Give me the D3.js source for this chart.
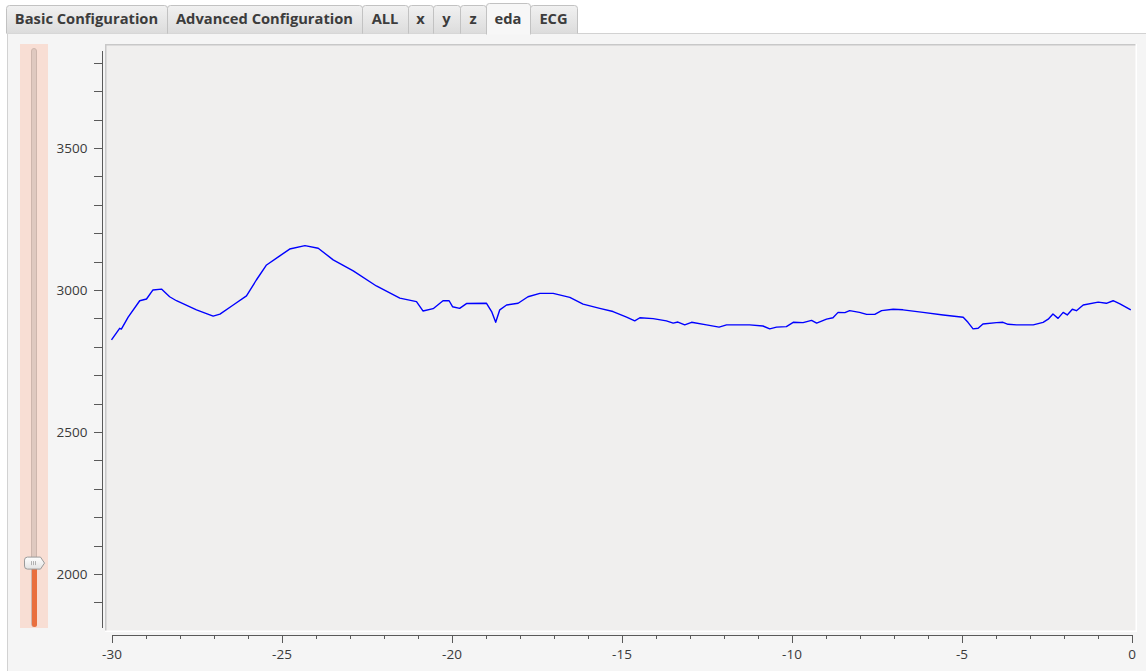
<!DOCTYPE html>
<html>
<head>
<meta charset="utf-8">
<script src="https://cdn.jsdelivr.net/npm/d3@7"></script>
<style>
  body { margin: 0; background: #fff; }
  svg { display: block; }
  .axis text { font-family: "Open Sans", sans-serif; font-size: 13.5px; fill: #3a3a3a; }
  .axis path, .axis line { stroke: #5a5a5a; shape-rendering: crispEdges; }
  .tab text { font-family: "Open Sans", sans-serif; font-weight: 700; font-size: 14.7px; fill: #3c3c3c; }
</style>
</head>
<body>
<svg width="1146" height="671"></svg>
<script>
// tabs
var tabNames = ["Basic Configuration", "Advanced Configuration", "ALL", "x", "y", "z", "eda", "ECG"];
var tabWidths = [161, 195, 46, 25, 27, 26, 44, 47];
var activeTab = "eda";

// eda signal, seconds before now -> value
var times = [-30.00, -29.76, -29.71, -29.51, -29.17, -28.97, -28.78, -28.53, -28.29, -28.09,
  -27.50, -27.01, -26.81, -26.42, -26.03, -25.74, -25.44, -25.05, -24.76, -24.31,
  -23.92, -23.48, -22.89, -22.21, -21.52, -21.03, -20.84, -20.54, -20.25, -20.07,
  -19.97, -19.76, -19.56, -18.97, -18.82, -18.70, -18.58, -18.38, -18.04, -17.75,
  -17.40, -17.01, -16.52, -16.13, -15.64, -15.25, -14.85, -14.61, -14.46, -14.07,
  -13.68, -13.48, -13.34, -13.14, -12.94, -12.50, -12.13, -11.91, -11.23, -10.84,
  -10.64, -10.44, -10.15, -9.95, -9.66, -9.41, -9.26, -8.97, -8.78, -8.63,
  -8.43, -8.29, -8.00, -7.79, -7.55, -7.35, -7.01, -6.72, -6.13, -5.54,
  -4.95, -4.81, -4.66, -4.51, -4.37, -3.97, -3.78, -3.63, -3.38, -2.89,
  -2.60, -2.45, -2.31, -2.16, -2.01, -1.89, -1.74, -1.62, -1.42, -0.98,
  -0.74, -0.54, -0.34, -0.02];
var values = [2824, 2865, 2862, 2904, 2962, 2968, 3000, 3003, 2976, 2962,
  2930, 2908, 2915, 2947, 2979, 3035, 3088, 3120, 3144, 3156,
  3147, 3106, 3067, 3014, 2971, 2959, 2926, 2934, 2962, 2962,
  2941, 2935, 2952, 2953, 2924, 2886, 2930, 2947, 2953, 2976,
  2988, 2988, 2974, 2950, 2935, 2924, 2904, 2891, 2902, 2899,
  2891, 2883, 2887, 2877, 2886, 2877, 2869, 2877, 2877, 2873,
  2863, 2869, 2871, 2886, 2885, 2893, 2883, 2897, 2902, 2921,
  2920, 2927, 2921, 2914, 2914, 2927, 2932, 2930, 2921, 2912,
  2904, 2886, 2863, 2865, 2880, 2885, 2886, 2879, 2877, 2877,
  2886, 2897, 2915, 2900, 2921, 2912, 2932, 2927, 2947, 2957,
  2953, 2962, 2951, 2930];

var xDomain = [-30, 0];
var yDomain = [1813, 3845];
var yTicks = d3.range(1900, 3900, 100);
var xTicks = d3.range(-30, 1, 1);
var sliderValue = 0.104;

var svg = d3.select('svg');
var defs = svg.append('defs');

var grad = defs.append('linearGradient').attr('id', 'tabGrad')
    .attr('x1', 0).attr('y1', 0).attr('x2', 0).attr('y2', 1);
grad.append('stop').attr('offset', '0%').attr('stop-color', '#f1f1f1');
grad.append('stop').attr('offset', '100%').attr('stop-color', '#dcdcdc');

var hgrad = defs.append('linearGradient').attr('id', 'handleGrad')
    .attr('x1', 0).attr('y1', 0).attr('x2', 0).attr('y2', 1);
hgrad.append('stop').attr('offset', '0%').attr('stop-color', '#ffffff');
hgrad.append('stop').attr('offset', '100%').attr('stop-color', '#e2e2e2');

// panel
svg.append('rect')
    .attr('x', 7.5).attr('y', 33.5).attr('width', 1145).attr('height', 650)
    .attr('fill', '#f5f5f5').attr('stroke', '#d2d2d2');

// tabs
var tabG = svg.append('g');
var tx = 6;
tabNames.forEach(function(name, i) {
    var w = tabWidths[i];
    var active = name === activeTab;
    var top = active ? 3 : 5;
    var g = tabG.append('g').attr('class', 'tab');
    var x0 = tx + 0.5, x1 = tx + w + 0.5, r = 3;
    var bottom = active ? 34.5 : 33.5;
    g.append('path')
        .attr('d', 'M' + x0 + ',' + bottom + 'V' + (top + r + 0.5) +
            'Q' + x0 + ',' + (top + 0.5) + ' ' + (x0 + r) + ',' + (top + 0.5) +
            'H' + (x1 - r) + 'Q' + x1 + ',' + (top + 0.5) + ' ' + x1 + ',' + (top + r + 0.5) +
            'V' + bottom)
        .attr('fill', active ? '#f7f7f7' : 'url(#tabGrad)')
        .attr('stroke', '#c2c2c2');
    g.append('text')
        .attr('x', tx + w / 2).attr('y', 24)
        .attr('text-anchor', 'middle')
        .text(name);
    tx += w;
});

// slider
svg.append('rect').attr('x', 20).attr('y', 44).attr('width', 28).attr('height', 584)
    .attr('fill', '#f8ded4');
var sy = d3.scaleLinear().domain([0, 1]).range([626, 50]);
svg.append('rect').attr('x', 31.5).attr('y', 48.5).attr('width', 5).attr('height', 578)
    .attr('rx', 2.5).attr('fill', '#dfc9c0').attr('stroke', '#cdb6ad');
svg.append('rect').attr('x', 32).attr('y', sy(sliderValue)).attr('width', 5)
    .attr('height', 627 - sy(sliderValue)).attr('rx', 2.5).attr('fill', '#e96f3e');
var hy = sy(sliderValue) - 3;
svg.append('path')
    .attr('d', 'M27.5,' + (hy - 6) + 'H40.5L44.5,' + hy + 'L40.5,' + (hy + 6) + 'H27.5' +
        'Q24.5,' + (hy + 6) + ' 24.5,' + (hy + 3) + 'V' + (hy - 3) + 'Q24.5,' + (hy - 6) + ' 27.5,' + (hy - 6) + 'Z')
    .attr('fill', 'url(#handleGrad)').attr('stroke', '#9a9a9a');
[31, 33, 35].forEach(function(gx) {
    svg.append('line').attr('x1', gx + 0.5).attr('x2', gx + 0.5)
        .attr('y1', hy - 2).attr('y2', hy + 2).attr('stroke', '#b0b0b0');
});

// plot frame
svg.append('rect').attr('x', 105).attr('y', 44).attr('width', 1032).attr('height', 588)
    .attr('fill', '#f0efee');
svg.append('path').attr('d', 'M105.75,632V44.75H1137')
    .attr('fill', 'none').attr('stroke', '#c8c8c8').attr('stroke-width', 1.5);
svg.append('path').attr('d', 'M105,631.25H1136.25V44')
    .attr('fill', 'none').attr('stroke', '#ffffff').attr('stroke-width', 1.5);

var x = d3.scaleLinear().domain(xDomain).range([111.5, 1131.5]);
var y = d3.scaleLinear().domain(yDomain).range([627, 50]);

// y axis
var yAxis = svg.append('g').attr('class', 'axis')
    .attr('transform', 'translate(101.5,0)')
    .call(d3.axisLeft(y).tickValues(yTicks).tickSize(8).tickSizeOuter(0).tickPadding(6)
        .tickFormat(function(d) { return d % 500 === 0 ? d : ''; }));

// x axis
var xAxis = svg.append('g').attr('class', 'axis')
    .attr('transform', 'translate(0,634.5)')
    .call(d3.axisBottom(x).tickValues(xTicks).tickSize(8).tickSizeOuter(0).tickPadding(7)
        .tickFormat(function(d) { return d % 5 === 0 ? d : ''; }));
xAxis.selectAll('.tick line')
    .attr('y2', function(d) { return d % 5 === 0 ? 8 : 4; });

// eda line
var line = d3.line()
    .x(function(d, i) { return x(times[i]); })
    .y(function(d) { return y(d); });

svg.append('path')
    .datum(values)
    .attr('d', line)
    .attr('fill', 'none')
    .attr('stroke', '#0000ff')
    .attr('stroke-width', 1.4)
    .attr('stroke-linejoin', 'round');
</script>
</body>
</html>
